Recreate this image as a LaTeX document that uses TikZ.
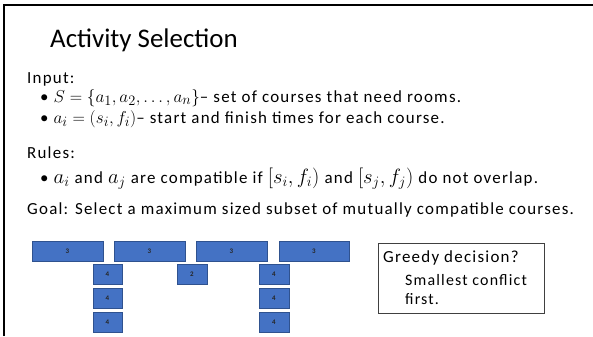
\documentclass[tikz,border=0pt]{standalone}
\usepackage{fontspec}
\setmainfont{Carlito}
\newfontfamily\bodyfont[LetterSpace=7.3]{Carlito}
\newcommand{\mth}[1]{{\fontsize{19}{21}\selectfont$#1$}}
\newcommand{\mthb}[1]{{\fontsize{21}{22}\selectfont$#1$}}
\definecolor{boxblue}{HTML}{4472C4}
\definecolor{boxedge}{HTML}{2F528F}
\begin{document}
\begin{tikzpicture}[x=1bp,y=-1bp,
  txt/.style={anchor=base west,inner sep=0pt,font=\fontsize{17}{20}\selectfont\bodyfont},
  course/.style={draw=boxedge,fill=boxblue,line width=0.8bp,inner sep=0pt,font=\fontsize{7}{8}\selectfont\bfseries,text=black!85},
  greedybox/.style={draw=black!75,line width=1bp}]
\useasboundingbox (0,0) rectangle (593,336);
\draw[line width=2bp] (4,336) -- (4,5) -- (593,5);
\node[txt,font=\fontsize{27}{32}\selectfont] (title) at (50,47) {Activity Selection};
\node[txt] (input) at (27,83) {Input:};
\node[txt] (b1) at (40,102) {•\hspace{5bp}\mth{S=\{a_1,a_2,\dots,a_n\}}– set of courses that need rooms.};
\node[txt] (b2) at (40,123) {•\hspace{5bp}\mth{a_i=(s_i,f_i)}– start and finish times for each course.};
\node[txt] (rules) at (27,158) {Rules:};
\node[txt] (b3) at (40,183) {•\hspace{5bp}\mthb{a_i} and \mthb{a_j} are compatible if \mthb{\big[s_i,f_i\big)} and \mthb{\big[s_j,f_j\big)} do not overlap.};
\node[txt] (goal) at (27,214) {Goal: Select a maximum sized subset of mutually compatible courses.};
% courses
\path[course] (32,241) rectangle node (c1) {3} (103,261);
\path[course] (114,241) rectangle node (c2) {3} (185,261);
\path[course] (196,241) rectangle node (c3) {3} (267,261);
\path[course] (279,241) rectangle node (c4) {3} (349,261);
\path[course] (93,264) rectangle node (d1) {4} (122,284);
\path[course] (93,288) rectangle node (d2) {4} (122,308);
\path[course] (93,312) rectangle node (d3) {4} (122,332);
\path[course] (177,264) rectangle node (e1) {2} (207,284);
\path[course] (259,264) rectangle node (f1) {4} (289,284);
\path[course] (259,288) rectangle node (f2) {4} (289,308);
\path[course] (259,312) rectangle node (f3) {4} (289,332);
% greedy box
\draw[greedybox] (378,243) rectangle (544,313);
\node[txt,font=\fontsize{17}{20}\selectfont\bodyfont] (g1) at (383,262) {Greedy decision?};
\node[txt,font=\fontsize{16}{19}\selectfont\bodyfont] (g2) at (405,285) {Smallest conflict};
\node[txt,font=\fontsize{16}{19}\selectfont\bodyfont] (g3) at (405,304) {first.};
\end{tikzpicture}
\end{document}
